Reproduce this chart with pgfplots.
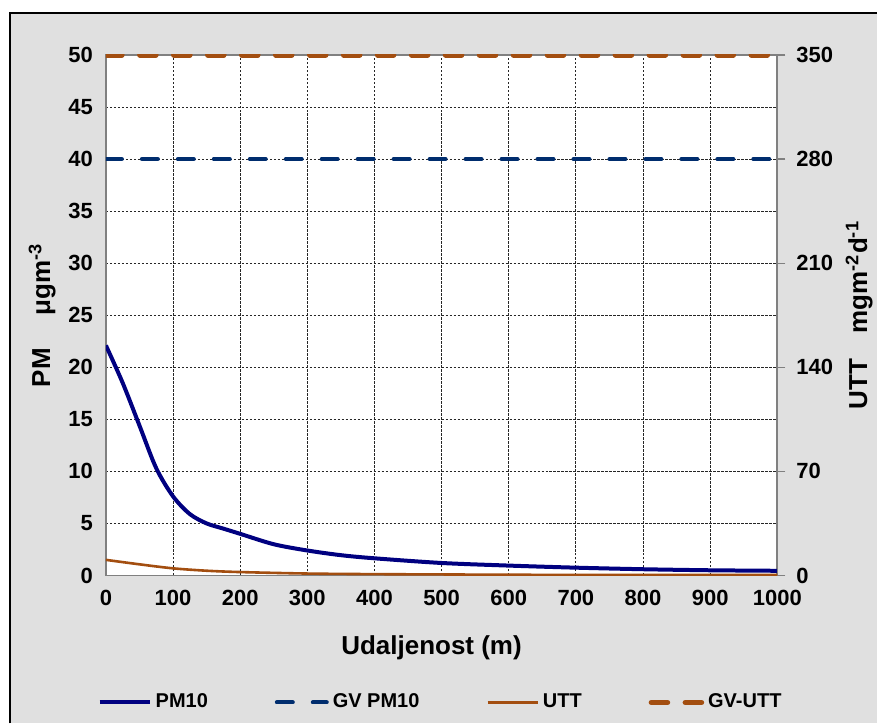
\documentclass[border=0pt]{standalone}
\usepackage{fontspec}
\setmainfont{Liberation Sans}
\usepackage{pgfplots}
\pgfplotsset{compat=1.18}

\definecolor{bgcol}{RGB}{224,224,224}
\definecolor{pmblue}{RGB}{0,0,128}
\definecolor{gvblue}{RGB}{0,45,110}
\definecolor{uttbrown}{RGB}{163,78,16}

\pgfplotstableread{
x y
0 22.1
25 18.5
50 14.4
75 10.3
100 7.6
125 5.9
150 5.0
175 4.5
200 4.0
250 3.0
300 2.4
350 1.95
400 1.65
500 1.2
600 0.95
700 0.75
800 0.6
900 0.5
1000 0.45
}\pmdata

\pgfplotstableread{
x y
0 10.5
50 7.5
100 4.8
150 3.2
200 2.3
300 1.3
400 0.9
500 0.7
600 0.5
700 0.4
800 0.35
900 0.3
1000 0.3
}\uttdata

\begin{document}
\bfseries
\begin{tikzpicture}[x=1pt,y=1pt]
\fill[bgcol] (5,0) rectangle (439,355.5);
\draw[black, line width=0.8pt] (5,0) -- (5,355.5) -- (439,355.5);
\path[use as bounding box] (0,0) rectangle (439,362);

\begin{axis}[
  at={(53pt,74pt)}, anchor=south west,
  scale only axis, width=336pt, height=260.5pt,
  xmin=0, xmax=1000, ymin=0, ymax=50,
  xtick={0,100,...,1000}, ytick={0,5,...,50},
  axis background/.style={fill=white},
  axis line style={draw=black!50, line width=0.8pt},
  major tick length=0pt,
  grid=major,
  major grid style={black!85, line width=0.5pt, dash pattern=on 1.2pt off 0.8pt},
  /pgf/number format/assume math mode=true,
  /pgf/number format/1000 sep={},
  tick label style={font=\fontsize{11}{13}\selectfont\bfseries},
  yticklabel style={xshift=-3pt},
  xticklabel style={yshift=-4pt},
  label style={font=\fontsize{13}{15}\selectfont\bfseries},
  xlabel={Udaljenost (m)},
  xlabel style={at={(axis description cs:0.485,-0.138)}, anchor=center},
  ylabel={PM\quad\ μgm\textsuperscript{-3}},
  ylabel style={at={(axis description cs:-0.095,0.5)}, anchor=center},
]
\addplot[pmblue, line width=2pt, smooth, tension=0.5] table {\pmdata};
\addplot[gvblue, line width=2pt, line cap=round, dash pattern=on 8pt off 10pt] coordinates {(0,40) (1000,40)};
\end{axis}

\begin{axis}[
  at={(53pt,74pt)}, anchor=south west,
  scale only axis, width=336pt, height=260.5pt,
  xmin=0, xmax=1000, ymin=0, ymax=350,
  axis x line=none, axis y line*=right,
  ytick={0,70,...,350},
  axis line style={draw=black!50, line width=0.8pt},
  tick style={draw=black!50, line width=0.6pt},
  major tick length=4pt,
  tick align=outside,
  /pgf/number format/assume math mode=true,
  tick label style={font=\fontsize{11}{13}\selectfont\bfseries},
  yticklabel style={anchor=west, xshift=2pt},
  label style={font=\fontsize{13}{15}\selectfont\bfseries},
  ylabel={UTT\quad mgm\textsuperscript{-2}d\textsuperscript{-1}},
  ylabel style={at={(axis description cs:1.122,0.5)}, anchor=center},
  legend columns=4,
  legend style={at={(axis description cs:0.5,-0.244)}, anchor=center,
    draw=none, fill=none, font=\fontsize{10}{12}\selectfont\bfseries,
    /tikz/every even column/.append style={column sep=31.5pt}},
  legend image code/.code={\draw[#1] (0pt,0pt) -- (25pt,0pt);},
]
\addlegendimage{pmblue, line width=2pt}
\addlegendentry{PM10}
\addlegendimage{gvblue, line width=2pt, line cap=round, dash pattern=on 8pt off 10pt}
\addlegendentry{GV PM10}
\addplot[uttbrown, line width=1.3pt, smooth, tension=0.5] table {\uttdata};
\addlegendentry{UTT}
\addplot[uttbrown, line width=2.8pt, line cap=round, dash pattern=on 8pt off 9pt] coordinates {(0,350) (1000,350)};
\addlegendentry{GV-UTT}
\end{axis}
\end{tikzpicture}
\end{document}
